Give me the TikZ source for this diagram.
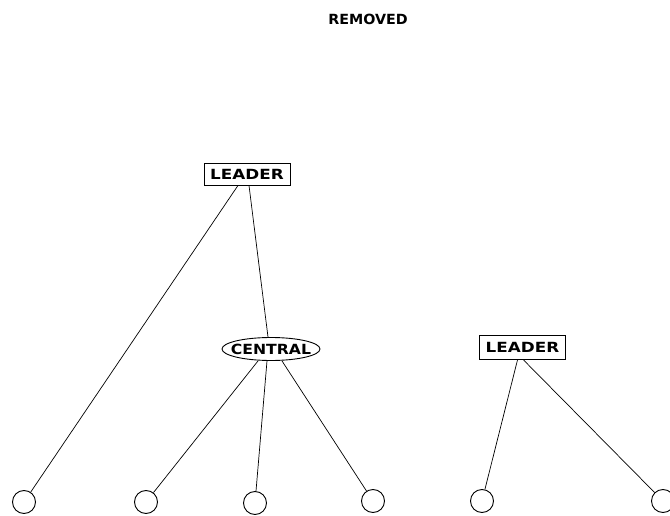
\documentclass[tikz,border=0pt]{standalone}
\usepackage{fontspec}
\setmainfont{DejaVu Sans}
\usetikzlibrary{shapes.geometric}
\newcommand{\widetext}[1]{\scalebox{1.2}[1]{\bfseries #1}}
\tikzset{
  lbl/.style={font=\fontsize{14}{14}\selectfont, inner sep=0pt},
  leaderbox/.style={lbl, draw, line width=0.9pt, minimum width=86pt, minimum height=22pt},
  hubellipse/.style={draw, ellipse, line width=0.9pt, minimum width=98pt, minimum height=23pt, inner sep=0pt},
  member/.style={draw, circle, line width=0.9pt, minimum size=23pt, inner sep=0pt},
  link/.style={line width=0.7pt}
}
\begin{document}
\begin{tikzpicture}[x=1pt, y=-1pt]
  \fill[white] (0,0) rectangle (670,516);
  \clip (0,0) rectangle (670,516);
  \useasboundingbox (0,0) rectangle (670,516);

  % heading
  \node[lbl] (title) at (368,19) {\scalebox{1.02}[1]{\bfseries REMOVED}};

  % groups
  \node[leaderbox] (L1) at (247,174) {\widetext{LEADER}};
  \node[hubellipse] (C) at (271,349) {};
  \node[lbl] (Ctext) at (C.center) {\scalebox{1.12}[1]{\bfseries CENTRAL}};
  \node[leaderbox, minimum height=24pt] (L2) at (522.5,347.5) {\widetext{LEADER}};

  % members
  \node[member] (m1) at (24,502) {};
  \node[member] (m2) at (146,502) {};
  \node[member] (m3) at (255,503) {};
  \node[member] (m4) at (373,501) {};
  \node[member] (m5) at (482,501) {};
  \node[member] (m6) at (663,501) {};

  % links
  \draw[link] ([xshift=-9pt]L1.south) -- (m1);
  \draw[link] ([xshift=2pt]L1.south) -- ([xshift=-3pt]C.north);
  \draw[link] ([xshift=-13pt]C.south) -- (m2);
  \draw[link] ([xshift=-4pt]C.south) -- (m3);
  \draw[link] ([xshift=11pt]C.south) -- (m4);
  \draw[link] ([xshift=-5pt]L2.south) -- (m5);
  \draw[link] ([xshift=1pt]L2.south) -- (m6);
\end{tikzpicture}
\end{document}
